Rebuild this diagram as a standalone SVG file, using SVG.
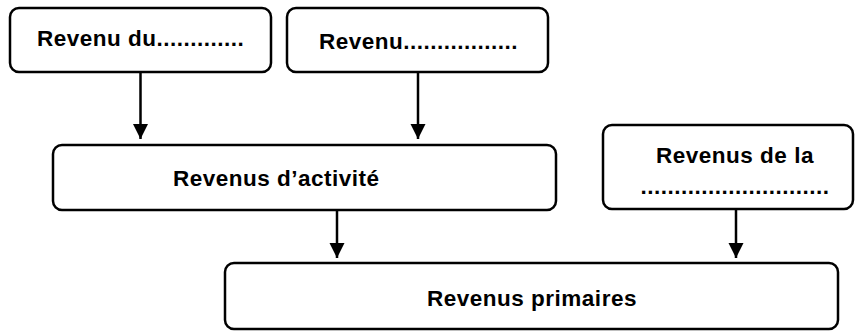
<svg xmlns="http://www.w3.org/2000/svg" width="855" height="331" viewBox="0 0 855 331">
<style>
.box{fill:#fff;stroke:#000;stroke-width:2.5}
.t{font-family:"Liberation Sans",Arial,sans-serif;font-weight:bold;font-size:22.5px;letter-spacing:0.5px;fill:#000}
.c{stroke:#000;stroke-width:2.5;fill:none}
</style>
<defs>
<marker id="ah" viewBox="0 0 10 10" refX="10" refY="5" markerWidth="6" markerHeight="6.5" markerUnits="strokeWidth" orient="auto">
<path d="M0,0 L10,5 L0,10 Z" fill="#000"/>
</marker>
</defs>
<rect width="855" height="331" fill="#fff"/>
<g id="connectors">
<line class="c" x1="140.5" y1="72" x2="140.5" y2="139" marker-end="url(#ah)"/>
<line class="c" x1="418" y1="72" x2="418" y2="139" marker-end="url(#ah)"/>
<line class="c" x1="337" y1="210" x2="337" y2="258" marker-end="url(#ah)"/>
<line class="c" x1="736" y1="209" x2="736" y2="258" marker-end="url(#ah)"/>
</g>
<g id="n1">
<rect class="box" x="10" y="8" width="261" height="64" rx="9"/>
<text class="t" x="37" y="46">Revenu du.............</text>
</g>
<g id="n2">
<rect class="box" x="287" y="8" width="261" height="64" rx="9"/>
<text class="t" x="319" y="49">Revenu.................</text>
</g>
<g id="n3">
<rect class="box" x="53" y="145" width="503" height="65" rx="9"/>
<text class="t" x="173" y="186">Revenus d’activité</text>
</g>
<g id="n4">
<rect class="box" x="603" y="125" width="250" height="84" rx="9"/>
<text class="t" x="735" y="163" text-anchor="middle">Revenus de la</text>
<text class="t" x="735" y="194" text-anchor="middle">............................</text>
</g>
<g id="n5">
<rect class="box" x="225" y="263" width="613" height="66" rx="9"/>
<text class="t" x="532" y="306" text-anchor="middle">Revenus primaires</text>
</g>
</svg>
